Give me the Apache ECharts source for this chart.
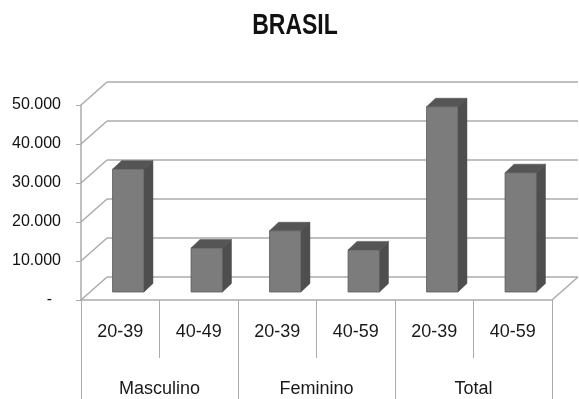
<!DOCTYPE html>
<html>
<head>
<meta charset="utf-8">
<style>
  html, body { margin: 0; padding: 0; background: #ffffff; }
  #chart { width: 579px; height: 399px; }
</style>
<script src="https://cdn.jsdelivr.net/npm/echarts@6/dist/echarts.min.js"></script>
</head>
<body>
<div id="chart"></div>
<script>
// Chart content
const chartTitle = 'BRASIL';
const ageGroups = ['20-39', '40-49', '20-39', '40-59', '20-39', '40-59'];
const sexGroups = ['Masculino', 'Feminino', 'Total'];
const values = [31500, 11300, 15700, 10800, 47500, 30600];
const yTicks = [0, 10000, 20000, 30000, 40000, 50000];

// 3D projection settings (pixels)
const WALL_DX = 26, WALL_DY = -23;       // depth of floor / side wall
const BAR_SHIFT_X = 8, BAR_SHIFT_Y = -8; // front face of the bars inside the depth
const BAR_DX = 9, BAR_DY = -8.5;         // depth of each bar

const gridColor = '#ababab';
const textColor = '#1a1a1a';
const labelFont = "'Liberation Sans', Arial, sans-serif";

function fmtThousands(v) {
  if (v === 0) return '-  ';
  return String(v).replace(/\B(?=(\d{3})+(?!\d))/g, '.');
}

const chart = echarts.init(document.getElementById('chart'), null, { renderer: 'canvas' });

chart.setOption({
  backgroundColor: '#ffffff',
  animation: false,
  graphic: [{
    type: 'text',
    x: 295, y: 26,
    scaleY: 1.3,
    style: {
      text: chartTitle,
      textAlign: 'center',
      textVerticalAlign: 'middle',
      fontFamily: labelFont,
      fontWeight: 'bold',
      fontSize: 23,
      fill: '#111111'
    }
  }],
  grid: { left: 81, top: 105, width: 471, height: 195 },
  xAxis: [{
    type: 'category',
    data: ageGroups,
    position: 'bottom',
    axisLine: { show: true, lineStyle: { color: gridColor, width: 1.5 } },
    axisTick: { show: true, interval: 0, length: 58, lineStyle: { color: gridColor, width: 1 } },
    axisLabel: {
      interval: 0, margin: 23, color: textColor, fontSize: 18,
      fontFamily: labelFont
    },
    splitLine: { show: false }
  }, {
    type: 'category',
    data: sexGroups,
    position: 'bottom',
    axisLine: { show: false },
    axisTick: { show: true, interval: 0, length: 99, lineStyle: { color: gridColor, width: 1 } },
    axisLabel: {
      interval: 0, margin: 80, color: textColor, fontSize: 18,
      fontFamily: labelFont
    },
    splitLine: { show: false }
  }],
  yAxis: {
    type: 'value',
    min: 0, max: 50000, interval: 10000,
    axisLine: { show: true, lineStyle: { color: gridColor, width: 1.5 } },
    axisTick: { show: true, length: 5, lineStyle: { color: gridColor } },
    axisLabel: {
      margin: 20, color: '#111111', fontSize: 16,
      fontFamily: labelFont,
      formatter: fmtThousands
    },
    splitLine: { show: false }
  },
  series: [{
    // back wall grid lines, side-wall connectors and the floor edge
    type: 'custom',
    z: 1,
    silent: true,
    data: yTicks.map(v => [0, v]),
    encode: { x: 0, y: 1 },
    renderItem: function (params, api) {
      const cs = params.coordSys;
      const left = cs.x, right = cs.x + cs.width;
      const v = api.value(1);
      const y = api.coord([0, v])[1];
      const style = { stroke: gridColor, lineWidth: 1.5, fill: null };
      const children = [
        { type: 'line', shape: { x1: left, y1: y, x2: left + WALL_DX, y2: y + WALL_DY }, style: style },
        { type: 'line', shape: { x1: left + WALL_DX, y1: y + WALL_DY, x2: right + WALL_DX, y2: y + WALL_DY }, style: style }
      ];
      if (v === 0) {
        children.push({ type: 'line', shape: { x1: right, y1: y, x2: right + WALL_DX, y2: y + WALL_DY }, style: style });
      }
      return { type: 'group', children: children };
    }
  }, {
    // 3D columns
    type: 'custom',
    z: 2,
    data: values.map((v, i) => [i, v]),
    encode: { x: 0, y: 1 },
    renderItem: function (params, api) {
      const i = api.value(0);
      const base = api.coord([i, 0]);
      const top = api.coord([i, api.value(1)]);
      const bw = api.size([1, 0])[0] * 0.4;
      const x0 = base[0] - bw / 2 + BAR_SHIFT_X;
      const x1 = x0 + bw;
      const yb = base[1] + BAR_SHIFT_Y;
      const yt = top[1] + BAR_SHIFT_Y;
      return {
        type: 'group',
        children: [
          {
            type: 'polygon',
            shape: { points: [[x1, yt], [x1 + BAR_DX, yt + BAR_DY], [x1 + BAR_DX, yb + BAR_DY], [x1, yb]] },
            style: { fill: '#4e4e4e', stroke: '#454545', lineWidth: 0.5 }
          },
          {
            type: 'polygon',
            shape: { points: [[x0, yt], [x0 + BAR_DX, yt + BAR_DY], [x1 + BAR_DX, yt + BAR_DY], [x1, yt]] },
            style: { fill: '#555555', stroke: '#4a4a4a', lineWidth: 0.5 }
          },
          {
            type: 'rect',
            shape: { x: x0, y: yt, width: bw, height: yb - yt },
            style: { fill: '#7c7c7c', stroke: '#5a5a5a', lineWidth: 0.8 }
          }
        ]
      };
    }
  }]
});
</script>
</body>
</html>
